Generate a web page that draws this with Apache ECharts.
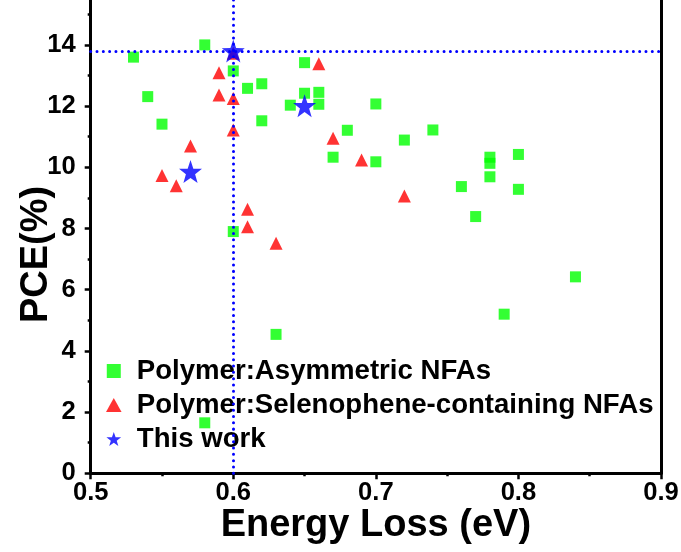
<!DOCTYPE html>
<html>
<head>
<meta charset="utf-8">
<script src="https://cdn.jsdelivr.net/npm/echarts@6/dist/echarts.min.js"></script>
<style>
html,body{margin:0;padding:0;background:#fff;}
#chart{width:681px;height:552px;}
</style>
</head>
<body>
<div id="chart"></div>
<script>
// ---- data ----
var seriesNames = ['Polymer:Asymmetric NFAs', 'Polymer:Selenophene-containing NFAs', 'This work'];

var asymX = [0.53, 0.58, 0.60, 0.61, 0.62, 0.54, 0.55, 0.62, 0.64, 0.65, 0.65, 0.66, 0.66, 0.70, 0.68, 0.72,
             0.74, 0.67, 0.70, 0.76, 0.77, 0.78, 0.78, 0.78, 0.80, 0.80, 0.84, 0.79, 0.60, 0.63, 0.58];
var asymY = [13.6, 14.0, 13.15, 12.58, 12.73, 12.31, 11.41, 11.52, 12.03, 13.42, 12.42, 12.45, 12.06, 12.07, 11.21, 10.89,
             11.22, 10.33, 10.18, 9.37, 8.39, 10.33, 10.13, 9.69, 10.42, 9.28, 6.42, 5.20, 7.90, 4.54, 1.65];

var seleX = [0.60, 0.59, 0.59, 0.60, 0.66, 0.60, 0.57, 0.67, 0.55, 0.56, 0.69, 0.72, 0.61, 0.61, 0.63];
var seleY = [13.73, 13.09, 12.36, 12.25, 13.38, 11.22, 10.70, 10.95, 9.73, 9.40, 10.24, 9.06, 8.63, 8.06, 7.52];

var workX = [0.60, 0.57, 0.65];
var workY = [13.8, 9.86, 12.01];

var refX = 0.6;    // vertical dotted line
var refY = 13.8;   // horizontal dotted line

var xTicks = [0.5, 0.6, 0.7, 0.8, 0.9];
var yTicks = [0, 2, 4, 6, 8, 10, 12, 14];

function zip(xs, ys) { return xs.map(function (x, i) { return [x, ys[i]]; }); }

var FONT = '"Liberation Sans", Arial, sans-serif';
var STAR = 'path://M0,-10L2.35,-3.24L9.51,-3.09L3.8,1.24L5.88,8.09L0,4L-5.88,8.09L-3.8,1.24L-9.51,-3.09L-2.35,-3.24Z';
var chart = echarts.init(document.getElementById('chart'), null, {renderer: 'canvas'});

var option = {
  backgroundColor: '#ffffff',
  animation: false,
  grid: {left: 90.7, right: 20, top: -16.3, bottom: 78.7, containLabel: false, outerBoundsMode: 'none'},
  xAxis: {
    type: 'value', min: xTicks[0], max: xTicks[xTicks.length - 1], interval: 0.1,
    name: 'Energy Loss (eV)', nameLocation: 'middle', nameGap: 33, nameMoveOverlap: false,
    nameTextStyle: {fontFamily: FONT, fontWeight: 'bold', fontSize: 38, color: '#000'},
    axisLine: {show: true, lineStyle: {color: '#000', width: 3}},
    axisTick: {show: true, length: 6, lineStyle: {color: '#000', width: 2.5}},
    minorTick: {show: true, splitNumber: 2, length: 3, lineStyle: {color: '#000', width: 2.5}},
    axisLabel: {fontFamily: FONT, fontWeight: 'bold', fontSize: 25.6, color: '#000', margin: 7,
      formatter: function (v) { return v.toFixed(1); }},
    splitLine: {show: false}
  },
  yAxis: [{
    type: 'value', min: 0, max: 16, interval: 2, position: 'left',
    name: 'PCE(%)', nameLocation: 'middle', nameGap: 35, nameRotate: 90, nameMoveOverlap: false,
    nameTextStyle: {fontFamily: FONT, fontWeight: 'bold', fontSize: 38, color: '#000', padding: [0, 52, 0, 0]},
    axisLine: {show: true, lineStyle: {color: '#000', width: 3}},
    axisTick: {show: true, length: 6, lineStyle: {color: '#000', width: 2.5}},
    minorTick: {show: true, splitNumber: 2, length: 3, lineStyle: {color: '#000', width: 2.5}},
    axisLabel: {fontFamily: FONT, fontWeight: 'bold', fontSize: 25.6, color: '#000', margin: 15,
      formatter: function (v) { return yTicks.indexOf(v) >= 0 ? String(v) : ''; }},
    splitLine: {show: false}
  }, {
    type: 'value', min: 0, max: 16, interval: 2, position: 'right',
    axisLine: {show: true, onZero: false, lineStyle: {color: '#000', width: 3}},
    axisTick: {show: false}, axisLabel: {show: false}, splitLine: {show: false}
  }],
  legend: {
    orient: 'vertical', left: 101, top: 352, itemGap: 6, itemWidth: 36, itemHeight: 14,
    data: [
      {name: seriesNames[0], icon: 'path://M0,0H10V10H0Z'},
      {name: seriesNames[1], icon: 'path://M5,0L10,9L0,9Z'},
      {name: seriesNames[2], icon: STAR}
    ],
    textStyle: {fontFamily: FONT, fontWeight: 'bold', fontSize: 27.6, lineHeight: 28, color: '#000'}
  },
  series: [{
    name: seriesNames[0], type: 'scatter', symbol: 'rect', symbolSize: 11, z: 2,
    itemStyle: {color: '#00ff00'}, data: zip(asymX, asymY)
  }, {
    name: seriesNames[1], type: 'scatter', symbol: 'triangle', symbolSize: 13, z: 3,
    itemStyle: {color: '#ff0000'}, data: zip(seleX, seleY)
  }, {
    name: seriesNames[2], type: 'scatter', symbol: STAR, symbolSize: 23, z: 4,
    itemStyle: {color: '#0000ff'}, data: zip(workX, workY)
  }, {
    name: 'ref', type: 'scatter', data: [], z: 6,
    markLine: {
      silent: true, symbol: ['none', 'none'], label: {show: false},
      lineStyle: {color: '#0000ff', width: 3, type: [0.01, 6.3], cap: 'round'},
      data: [{xAxis: refX}, {yAxis: refY}]
    }
  }]
};
chart.setOption(option);
</script>
</body>
</html>
